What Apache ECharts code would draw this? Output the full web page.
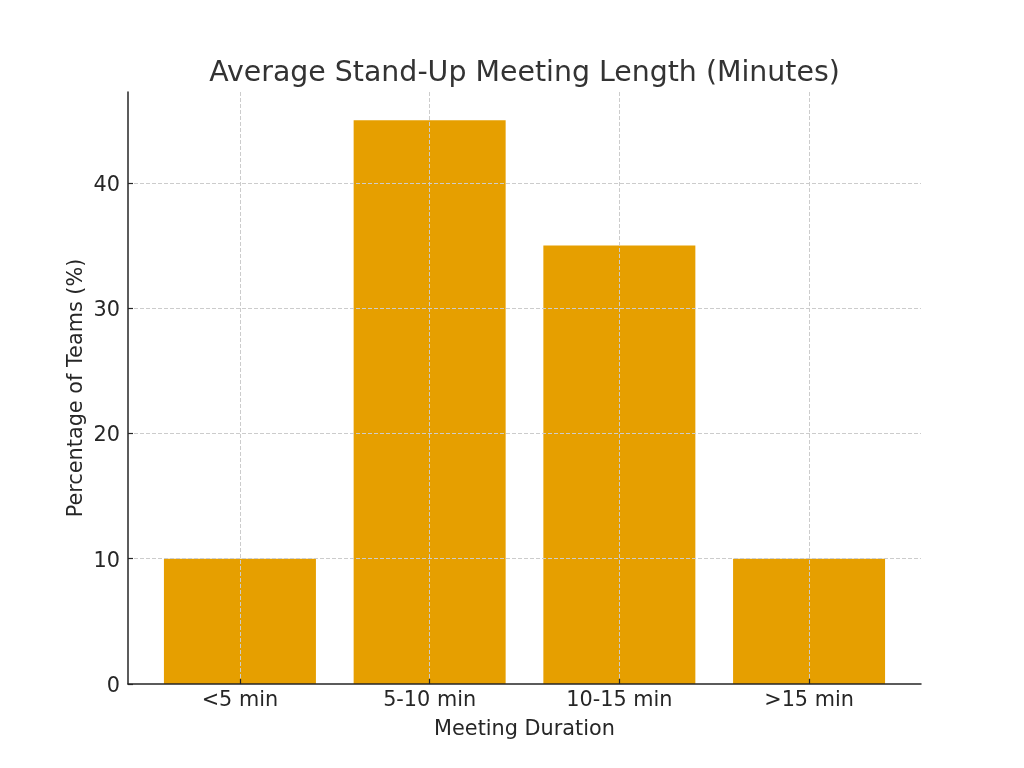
<!DOCTYPE html>
<html>
<head>
<meta charset="utf-8">
<script src="https://cdn.jsdelivr.net/npm/echarts@6/dist/echarts.min.js"></script>
<style>
html,body{margin:0;padding:0;background:#fff;}
#c{width:1024px;height:768px;}
</style>
</head>
<body>
<div id="c"></div>
<script>
const categories = ['<5 min', '5-10 min', '10-15 min', '>15 min'];
const percentages = [10, 45, 35, 10];
const yTicks = [0, 10, 20, 30, 40];

const positions = categories.map((c, i) => i);
const FONT = 'DejaVu Sans';

const chart = echarts.init(document.getElementById('c'), null, {renderer: 'canvas'});
const gridStyle = {color: '#cccccc', width: 1, type: [4, 2]};

chart.setOption({
  animation: false,
  backgroundColor: '#ffffff',
  title: {
    text: 'Average Stand-Up Meeting Length (Minutes)',
    left: 519.5, textAlign: 'center', top: 55,
    textStyle: {fontFamily: FONT, fontSize: 28.4, fontWeight: 'normal', color: '#333333'}
  },
  grid: {left: 128, right: 103, top: 92, bottom: 84, containLabel: false},
  xAxis: {
    type: 'value', min: -0.59, max: 3.59, z: 10,
    name: 'Meeting Duration', nameLocation: 'middle', nameGap: 35,
    nameTextStyle: {fontFamily: FONT, fontSize: 20.8, color: '#262626'},
    axisLine: {show: true, onZero: false, lineStyle: {color: '#262626', width: 1.5}},
    axisTick: {show: true, inside: true, length: 5, customValues: positions, lineStyle: {color: '#262626', width: 1.2}},
    axisLabel: {customValues: positions, margin: 6, fontFamily: FONT, fontSize: 20.8, color: '#262626',
      formatter: v => categories[Math.round(v)]},
    splitLine: {show: false}
  },
  yAxis: {
    type: 'value', min: 0, max: 47.25, z: 10,
    name: 'Percentage of Teams (%)', nameLocation: 'middle', nameGap: 41, nameMoveOverlap: false,
    nameTextStyle: {fontFamily: FONT, fontSize: 20.8, color: '#262626'},
    axisLine: {show: true, onZero: false, lineStyle: {color: '#262626', width: 1.5}},
    axisTick: {show: true, inside: true, length: 5, customValues: yTicks, lineStyle: {color: '#262626', width: 1.2}},
    axisLabel: {customValues: yTicks, margin: 8, fontFamily: FONT, fontSize: 20.8, color: '#262626',
      formatter: v => '{a|' + v + '}',
      rich: {a: {fontFamily: FONT, fontSize: 20.8, color: '#262626', padding: [5, 0, 0, 0]}}},
    splitLine: {show: false}
  },
  series: [{
    type: 'bar',
    data: percentages.map((v, i) => [positions[i], v]),
    barWidth: 152,
    itemStyle: {color: '#E69F00'},
    markLine: {
      silent: true, symbol: 'none', z: 5,
      label: {show: false},
      lineStyle: gridStyle,
      data: positions.map(p => ({xAxis: p})).concat(yTicks.filter(t => t > 0).map(t => ({yAxis: t})))
    }
  }]
});
</script>
</body>
</html>
